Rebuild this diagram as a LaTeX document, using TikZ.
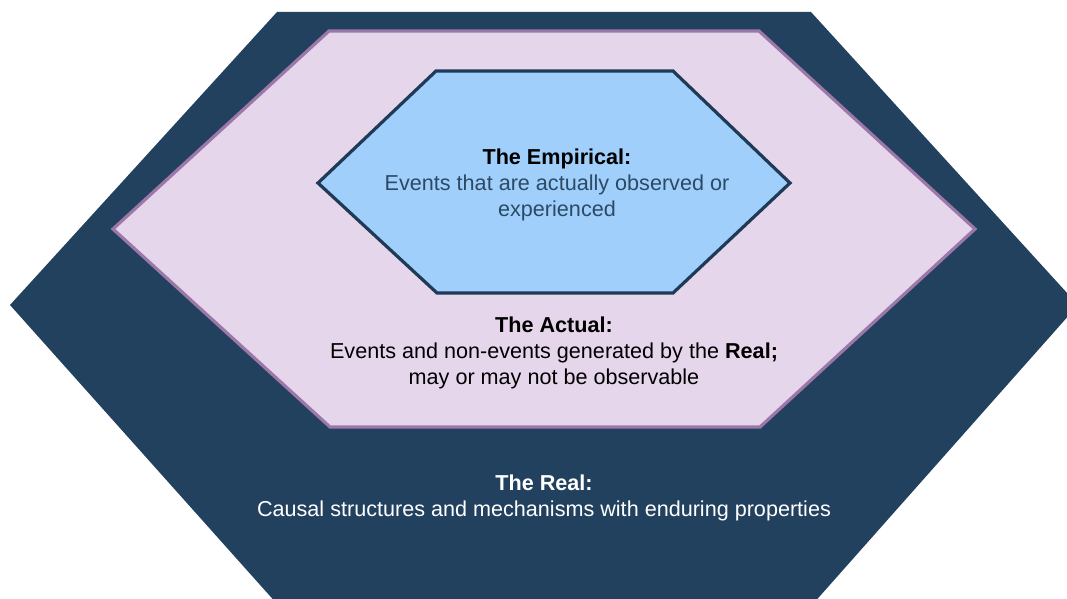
\documentclass[tikz,border=0pt]{standalone}
\usepackage{fontspec}
\setmainfont{Liberation Sans}
\usetikzlibrary{positioning}

\definecolor{realblue}{HTML}{22415E}
\definecolor{actualfill}{HTML}{E6D6EB}
\definecolor{actualline}{HTML}{9C78A8}
\definecolor{empfill}{HTML}{9FCFFA}
\definecolor{empline}{HTML}{1E3A56}
\definecolor{emptext}{HTML}{2C4A66}

\begin{document}
\begin{tikzpicture}[x=1pt, y=-1pt, label/.style={align=center, anchor=base, font=\fontsize{21.6}{25.7}\selectfont, inner sep=0pt}, hexline/.style={line width=3.2pt, line join=miter}]
        
        \useasboundingbox (0,0) rectangle (1067,599);
        \clip (0,0) rectangle (1067,599);
        
        \fill[realblue] (277,12) -- (811,12) -- (1078,305) -- (812,605) -- (278,605) -- (10,305) -- cycle;
        \draw[hexline, actualline, fill=actualfill] (329,31) -- (759,31) -- (975,229) -- (760,427) -- (330,427) -- (113,229) -- cycle;
        \draw[hexline, empline, fill=empfill] (436,71) -- (673,71) -- (790,183) -- (673,293) -- (437,293) -- (318,183) -- cycle;
        
        \node [label] (empirical) at (557,216) {\textbf{The Empirical:}\\\color{emptext}Events that are actually observed or\\\color{emptext}experienced};
        \node [label] (actual) at (554,384) {\textbf{The Actual:}\\Events and non-events generated by the \textbf{Real;}\\may or may not be observable};
        \node [label, text=white] (real) at (544,516) {\textbf{The Real:}\\Causal structures and mechanisms with enduring properties};
        
    \end{tikzpicture}
\end{document}
